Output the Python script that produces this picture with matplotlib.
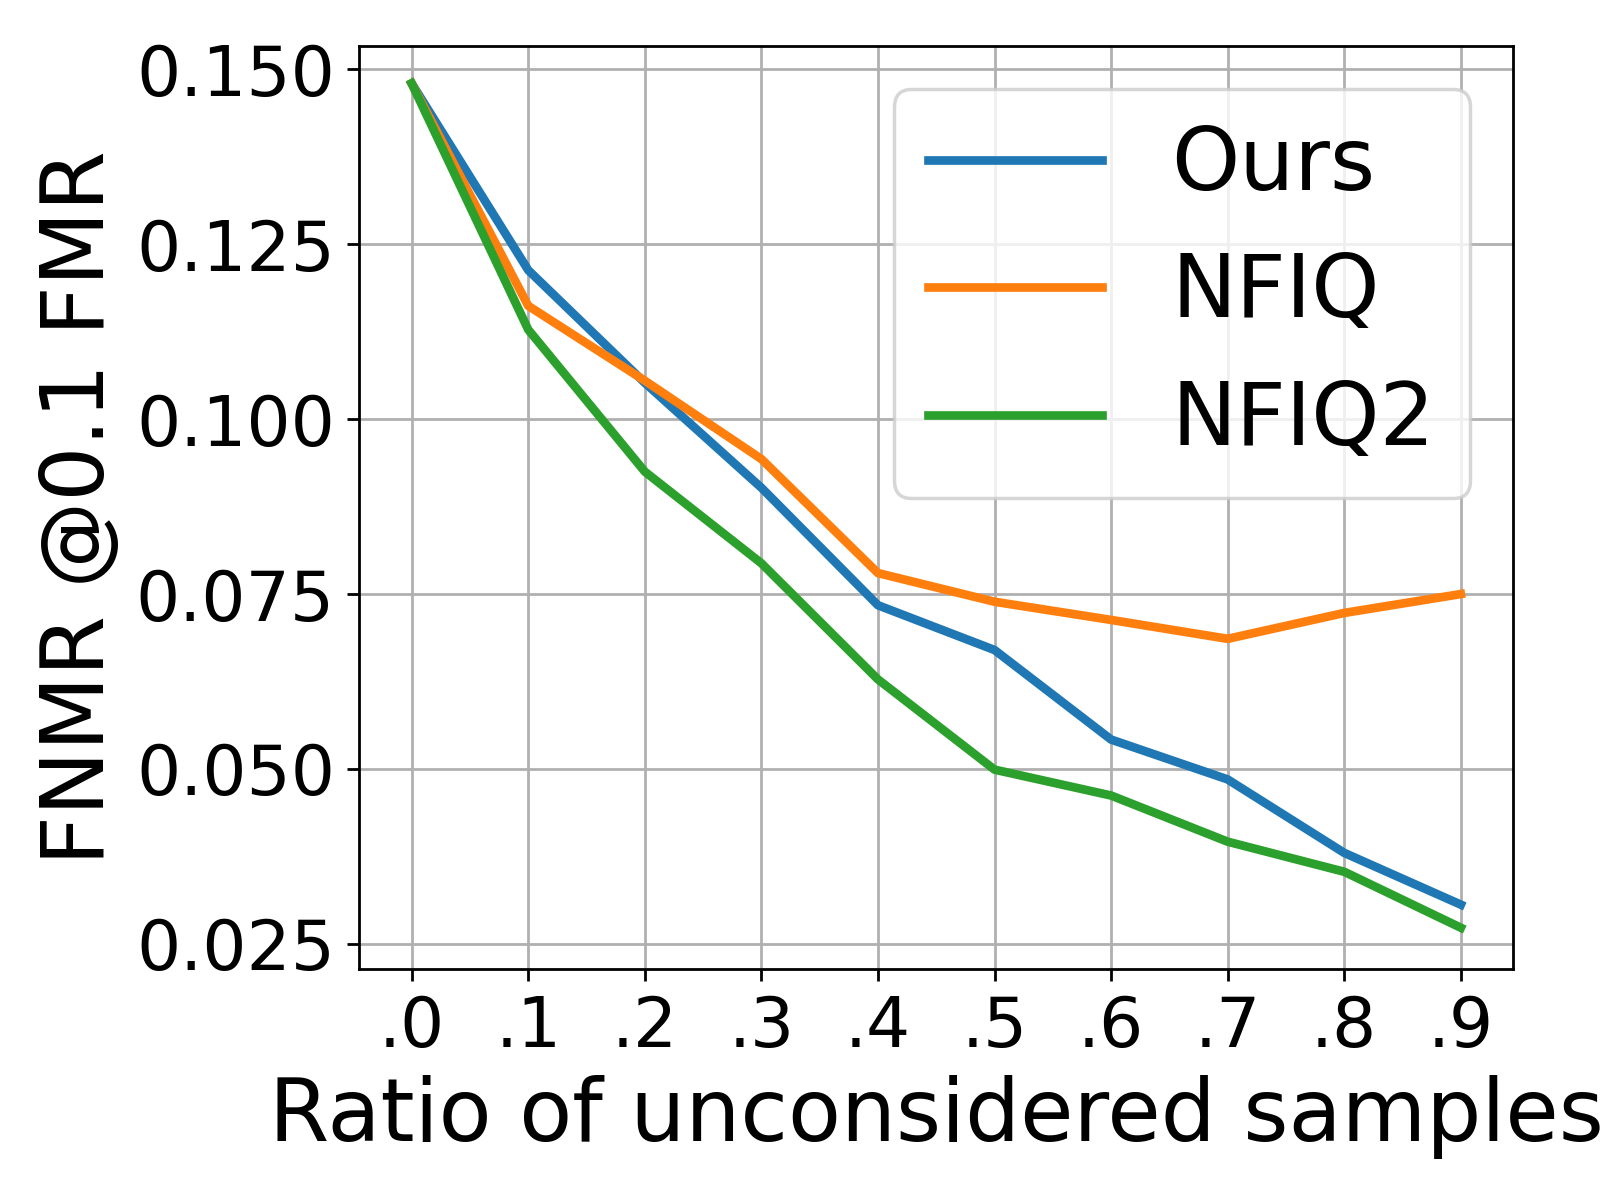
import matplotlib
matplotlib.use("Agg")
import matplotlib.pyplot as plt

ratios = [0.0, 0.1, 0.2, 0.3, 0.4, 0.5, 0.6, 0.7, 0.8, 0.9]
tick_labels = [".0", ".1", ".2", ".3", ".4", ".5", ".6", ".7", ".8", ".9"]
ours = [0.148, 0.1213, 0.1052, 0.0902, 0.0734, 0.0670, 0.0542, 0.0485, 0.0380, 0.0306]
nfiq = [0.148, 0.1162, 0.1055, 0.0943, 0.0780, 0.0739, 0.0713, 0.0686, 0.0723, 0.0750]
nfiq2 = [0.148, 0.1128, 0.0925, 0.0794, 0.0628, 0.0499, 0.0462, 0.0396, 0.0353, 0.0273]
yticks = [0.025, 0.050, 0.075, 0.100, 0.125, 0.150]

fig = plt.figure(figsize=(6.4, 4.8), dpi=250)
ax = fig.add_axes([0.2245, 0.1922, 0.7213, 0.7695])
lw = 2.5
ax.plot(ratios, ours, color="#1f77b4", lw=lw, label="Ours")
ax.plot(ratios, nfiq, color="#ff7f0e", lw=lw, label="NFIQ")
ax.plot(ratios, nfiq2, color="#2ca02c", lw=lw, label="NFIQ2")
ax.set_xticks(ratios)
ax.set_xticklabels(tick_labels)
ax.set_yticks(yticks)
ax.set_yticklabels([f"{v:.3f}" for v in yticks])
ax.tick_params(labelsize=20)
ax.set_xlim(-0.045, 0.945)
ax.set_ylim(0.02135, 0.15335)
ax.grid(True)
ax.set_xlabel("Ratio of unconsidered samples", fontsize=25)
ax.set_ylabel("FNMR @0.1 FMR", fontsize=25)
ax.legend(fontsize=25, loc="upper right")
fig.savefig("out.png", dpi=250)
